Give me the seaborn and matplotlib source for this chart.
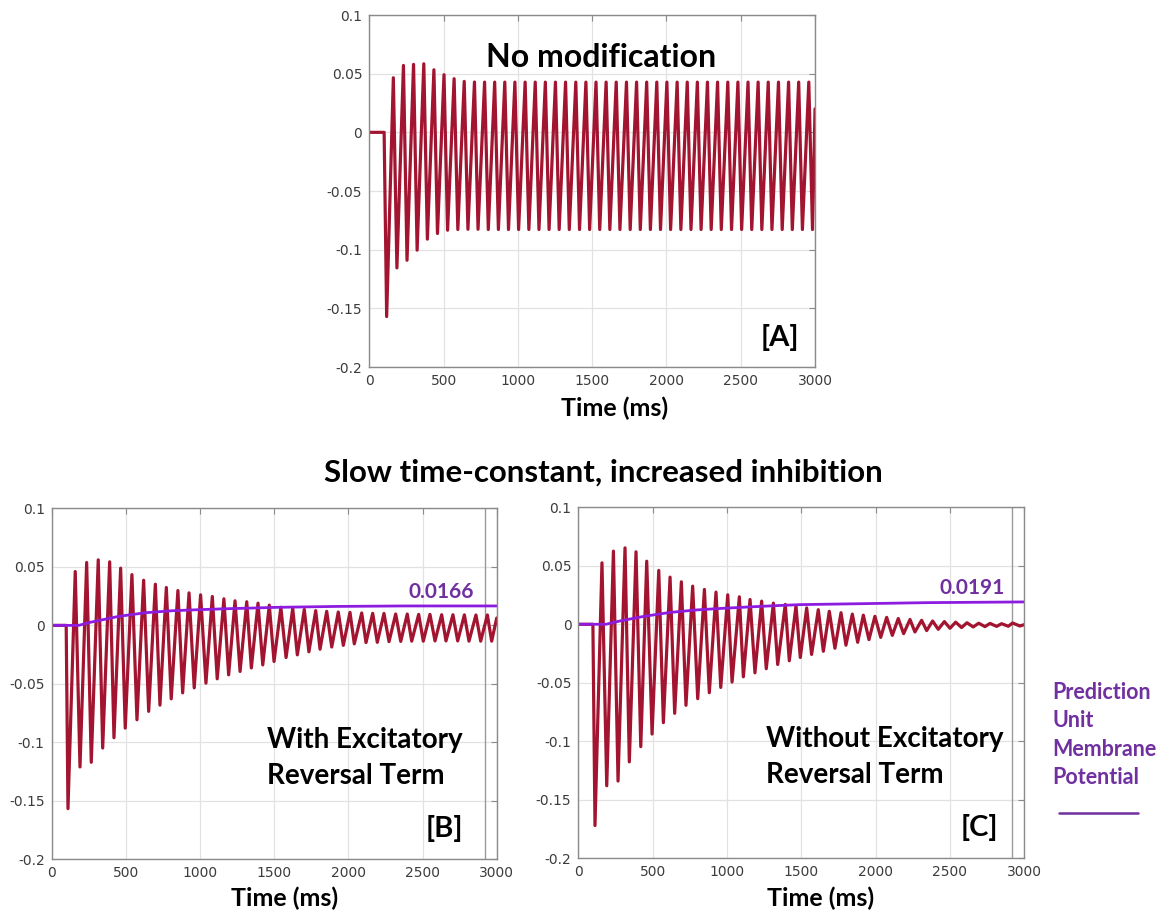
import numpy as np
import pandas as pd
import matplotlib
matplotlib.use("Agg")
import matplotlib.pyplot as plt
import seaborn as sns

# ---------------- data ----------------
x_ticks = [0, 500, 1000, 1500, 2000, 2500, 3000]
y_ticks = [-0.2, -0.15, -0.1, -0.05, 0, 0.05, 0.1]
y_tick_labels = ["-0.2", "-0.15", "-0.1", "-0.05", "0", "0.05", "0.1"]

# Panel A : No modification
a_onset_t = 100
a_peak_t = [162, 230, 298, 367, 435, 503, 571, 639, 708, 776, 844, 912, 980, 1049,
            1117, 1185, 1253, 1321, 1390, 1458, 1526, 1594, 1662, 1731, 1799, 1867,
            1935, 2003, 2072, 2140, 2208, 2276, 2344, 2413, 2481, 2549, 2617, 2685,
            2754, 2822, 2890, 2958]
a_peak_v = [0.0465, 0.0570, 0.0579, 0.0584, 0.0533, 0.0491, 0.0457, 0.0434, 0.0429,
            0.0428, 0.0428, 0.0428, 0.0428, 0.0428, 0.0428, 0.0428, 0.0428, 0.0428,
            0.0428, 0.0428, 0.0428, 0.0428, 0.0428, 0.0428, 0.0428, 0.0428, 0.0428,
            0.0428, 0.0428, 0.0428, 0.0428, 0.0428, 0.0428, 0.0428, 0.0428, 0.0428,
            0.0428, 0.0428, 0.0428, 0.0428, 0.0428, 0.0428]
a_trough_t = [117, 186, 254, 322, 391, 459, 527, 596, 664, 732, 801, 869, 937, 1005,
              1074, 1142, 1210, 1278, 1346, 1415, 1483, 1551, 1619, 1687, 1756, 1824,
              1892, 1960, 2028, 2097, 2165, 2233, 2301, 2369, 2438, 2506, 2574, 2642,
              2710, 2779, 2847, 2915, 2983]
a_trough_v = [-0.157, -0.1155, -0.109, -0.1004, -0.091, -0.0862, -0.0834, -0.0828,
              -0.0826, -0.0826, -0.0828, -0.0828, -0.0828, -0.0828, -0.0828, -0.0828,
              -0.0828, -0.0828, -0.0828, -0.0828, -0.0828, -0.0828, -0.0828, -0.0828,
              -0.0828, -0.0828, -0.0828, -0.0828, -0.0828, -0.0828, -0.0828, -0.0828,
              -0.0828, -0.0828, -0.0828, -0.0828, -0.0828, -0.0828, -0.0828, -0.0828,
              -0.0828, -0.0828, -0.0828]
a_end_t, a_end_v = 3000, 0.020

# Panel B : with excitatory reversal term
b_onset_t = 98
b_peak_t = [159, 236, 314, 391, 465, 541, 620, 699, 773, 851, 926, 1004, 1083, 1161,
            1236, 1315, 1391, 1467, 1545, 1625, 1703, 1780, 1854, 1932, 2011, 2090,
            2164, 2240, 2319, 2397, 2474, 2550, 2629, 2705, 2782, 2860, 2937]
b_peak_v = [0.0460, 0.0537, 0.0560, 0.0543, 0.0489, 0.0434, 0.0386, 0.0352, 0.0324,
            0.0298, 0.0278, 0.0261, 0.0247, 0.0227, 0.0210, 0.0202, 0.0190, 0.0173,
            0.0155, 0.0145, 0.0136, 0.0126, 0.0120, 0.0114, 0.0111, 0.0106, 0.0103,
            0.0102, 0.0097, 0.0097, 0.0094, 0.0094, 0.0091, 0.0091, 0.0090, 0.0089,
            0.0089]
b_trough_t = [110, 191, 267, 344, 420, 496, 575, 654, 730, 806, 883, 961, 1040, 1116,
              1193, 1270, 1346, 1423, 1499, 1580, 1656, 1734, 1809, 1888, 1966, 2040,
              2119, 2195, 2274, 2353, 2427, 2505, 2584, 2658, 2737, 2813, 2892, 2966]
b_trough_v = [-0.1566, -0.121, -0.117, -0.1048, -0.096, -0.0878, -0.0807, -0.0735,
              -0.0682, -0.0628, -0.0577, -0.0534, -0.0494, -0.0457, -0.0423, -0.0394,
              -0.0364, -0.0338, -0.0309, -0.0275, -0.0252, -0.0226, -0.0204, -0.0185,
              -0.0171, -0.0158, -0.0147, -0.0145, -0.0139, -0.0137, -0.0135, -0.0135,
              -0.0133, -0.0133, -0.0133, -0.0135, -0.0135, -0.0135]
b_end_t, b_end_v = 3000, 0.0063
b_pot_t = [0, 182, 260, 452, 632, 812, 991, 1171, 1351, 1508, 1924, 2374, 3000]
b_pot_v = [0, 0, 0.0026, 0.0077, 0.0108, 0.0125, 0.0134, 0.0142, 0.0148, 0.0154,
           0.0162, 0.0166, 0.0166]
b_final = "0.0166"

# Panel C : without excitatory reversal term
c_onset_t = 98
c_peak_t = [159, 236, 314, 388, 460, 541, 617, 693, 769, 848, 926, 1005, 1083, 1155,
            1233, 1312, 1392, 1464, 1536, 1614, 1688, 1767, 1843, 1917, 1995, 2074,
            2152, 2231, 2309, 2383, 2462, 2538, 2614, 2693, 2769, 2847, 2921]
c_peak_v = [0.0525, 0.0625, 0.0653, 0.0619, 0.0539, 0.046, 0.0403, 0.0363, 0.0326,
            0.0298, 0.0275, 0.0252, 0.0235, 0.0212, 0.0198, 0.0181, 0.0170, 0.0158,
            0.0140, 0.0125, 0.0111, 0.0099, 0.0087, 0.0078, 0.0068, 0.0059, 0.0049,
            0.0041, 0.0034, 0.0028, 0.0023, 0.0018, 0.0013, 0.0009, 0.0007, 0.0005,
            0.0011]
c_trough_t = [112, 191, 267, 343, 420, 496, 572, 648, 724, 803, 881, 958, 1034, 1110,
              1188, 1264, 1341, 1419, 1493, 1569, 1648, 1726, 1800, 1879, 1955, 2034,
              2112, 2188, 2264, 2343, 2421, 2500, 2578, 2656, 2735, 2814, 2892, 2970]
c_trough_v = [-0.172, -0.138, -0.134, -0.1176, -0.1046, -0.0938, -0.0841, -0.0761,
              -0.0693, -0.0636, -0.0585, -0.054, -0.0494, -0.0449, -0.0415, -0.038,
              -0.0344, -0.0312, -0.0284, -0.0258, -0.0231, -0.0205, -0.0179, -0.0154,
              -0.0131, -0.0112, -0.0095, -0.0080, -0.0066, -0.0054, -0.0043, -0.0034,
              -0.0028, -0.0023, -0.0020, -0.0018, -0.0017, -0.0015]
c_end_t, c_end_v = 3000, -0.0003
c_pot_t = [0, 186, 272, 429, 609, 788, 967, 1146, 1325, 1494, 1905, 2354, 3000]
c_pot_v = [0, 0, 0.0026, 0.0065, 0.0100, 0.0122, 0.0136, 0.0148, 0.0159, 0.0168,
           0.0176, 0.0185, 0.0191]
c_final = "0.0191"

cursor_t = 2920   # thin vertical marker line seen in panels B and C

RED = "#A2142F"
VIOLET = "#8E1BE0"
LABEL_PURPLE = "#7030A0"
SPINE = "#8a8a8a"

# ---------------- helpers ----------------
def trace_frame(onset_t, trough_t, trough_v, peak_t, peak_v, end_t, end_v):
    t = [0, onset_t] + list(trough_t) + list(peak_t) + [end_t]
    v = [0, 0] + list(trough_v) + list(peak_v) + [end_v]
    return pd.DataFrame({"t": t, "v": v}).sort_values("t").reset_index(drop=True)


def style_axes(ax, xlabel_x, xlabel_y):
    ax.set_xlim(0, 3000)
    ax.set_ylim(-0.2, 0.1)
    ax.set_xticks(x_ticks)
    ax.set_yticks(y_ticks)
    ax.set_yticklabels(y_tick_labels)
    ax.grid(True, color="#e2e2e2", linewidth=0.9)
    ax.set_axisbelow(True)
    for s in ax.spines.values():
        s.set_visible(True)
        s.set_color(SPINE)
        s.set_linewidth(1.0)
    ax.tick_params(direction="in", length=4, width=0.8, color=SPINE,
                   top=True, right=True, labelsize=10, labelcolor="#3c3c3c", pad=5)
    ax.set_ylabel("")
    ax.set_xlabel("Time (ms)", fontsize=18, fontweight="bold", family="Lato",
                  color="black")
    ax.xaxis.set_label_coords(xlabel_x, xlabel_y)
    ax.xaxis.label.set_va("center")


# ---------------- figure ----------------
sns.set_style("whitegrid")
plt.rcParams["font.family"] = ["DejaVu Sans"]

fig = plt.figure(figsize=(11.66, 9.15), dpi=100)
axA = fig.add_axes([0.3167, 0.5989, 0.3823, 0.3847])
axB = fig.add_axes([0.0443, 0.0608, 0.3817, 0.3836])
axC = fig.add_axes([0.4960, 0.0620, 0.3825, 0.3836])

dfA = trace_frame(a_onset_t, a_trough_t, a_trough_v, a_peak_t, a_peak_v, a_end_t, a_end_v)
dfB = trace_frame(b_onset_t, b_trough_t, b_trough_v, b_peak_t, b_peak_v, b_end_t, b_end_v)
dfC = trace_frame(c_onset_t, c_trough_t, c_trough_v, c_peak_t, c_peak_v, c_end_t, c_end_v)
potB = pd.DataFrame({"t": b_pot_t, "v": b_pot_v})
potC = pd.DataFrame({"t": c_pot_t, "v": c_pot_v})

sns.lineplot(data=dfA, x="t", y="v", ax=axA, color=RED, linewidth=2.3,
             estimator=None, sort=False)
for ax, df, pot in [(axB, dfB, potB), (axC, dfC, potC)]:
    ax.axvline(cursor_t, color="#9a9a9a", linewidth=1.0, zorder=1)
    sns.lineplot(data=df, x="t", y="v", ax=ax, color=RED, linewidth=2.3,
                 estimator=None, sort=False)
    sns.lineplot(data=pot, x="t", y="v", ax=ax, color=VIOLET, linewidth=2.0,
                 estimator=None, sort=False)

style_axes(axA, 0.55, -0.116)
style_axes(axB, 0.524, -0.11)
style_axes(axC, 0.544, -0.113)

bold = dict(family="Lato", fontweight="bold", color="black")

# panel texts
axA.text(0.52, 0.88, "No modification", transform=axA.transAxes, ha="center",
         va="center", fontsize=23, **bold)
axA.text(0.965, 0.085, "[A]", transform=axA.transAxes, ha="right", va="center",
         fontsize=21, **bold)

axB.text(0.483, 0.289, "With Excitatory\nReversal Term", transform=axB.transAxes,
         ha="left", va="center", fontsize=20, linespacing=1.5, **bold)
axB.text(0.925, 0.089, "[B]", transform=axB.transAxes, ha="right", va="center",
         fontsize=21, **bold)
axB.annotate(b_final, xy=(2850, b_pot_v[-1]), xytext=(0, 2.5), textcoords="offset points",
             ha="right", va="bottom", fontsize=15, fontweight="bold", family="Lato",
             color=LABEL_PURPLE)

axC.text(0.421, 0.289, "Without Excitatory\nReversal Term", transform=axC.transAxes,
         ha="left", va="center", fontsize=20, linespacing=1.5, **bold)
axC.text(0.941, 0.089, "[C]", transform=axC.transAxes, ha="right", va="center",
         fontsize=21, **bold)
axC.annotate(c_final, xy=(2865, c_pot_v[-1]), xytext=(0, 2.5), textcoords="offset points",
             ha="right", va="bottom", fontsize=15, fontweight="bold", family="Lato",
             color=LABEL_PURPLE)

# section title
fig.text(603 / 1166, 1 - 473 / 915, "Slow time-constant, increased inhibition",
         ha="center", va="center", fontsize=22.5, **bold)

# legend-like label on the right
fig.text(1052 / 1166, 1 - 735 / 915, "Prediction\nUnit\nMembrane\nPotential",
         ha="left", va="center", fontsize=15.5, fontweight="bold", family="Lato",
         color=LABEL_PURPLE, linespacing=1.45)
fig.add_artist(plt.Line2D([1059 / 1166, 1138 / 1166], [1 - 813 / 915, 1 - 813 / 915],
                          color=LABEL_PURPLE, linewidth=1.8))

fig.savefig("out.png", dpi=100, facecolor="white")
